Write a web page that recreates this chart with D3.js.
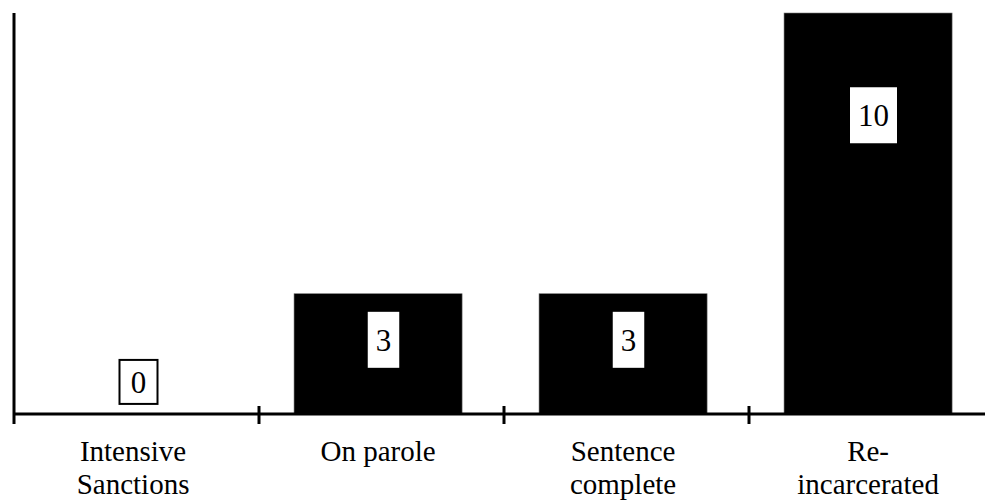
<!DOCTYPE html>
<html>
<head>
<meta charset="utf-8">
<script src="https://cdn.jsdelivr.net/npm/d3@7"></script>
<style>
  body { margin: 0; background: #fff; }
</style>
</head>
<body>
<svg width="985" height="501"></svg>
<script>
const categories = ["Intensive Sanctions", "On parole", "Sentence complete", "Re-incarcerated"];
const categoryLines = [["Intensive", "Sanctions"], ["On parole"], ["Sentence", "complete"], ["Re-", "incarcerated"]];
const values = [0, 3, 3, 10];
// height (in data units) where each value label sits
const labelAt = [0.8, 1.85, 1.85, 7.45];

const fontFamily = "'Times New Roman', 'Liberation Serif', Tinos, 'DejaVu Serif', serif";

const svg = d3.select("svg");
const width = +svg.attr("width");
const height = +svg.attr("height");

const margin = { top: 13, left: 14, bottom: 87 };
const axisY = height - margin.bottom;

const xScale = d3.scaleBand()
  .domain(categories)
  .range([margin.left, margin.left + 980]);

const yScale = d3.scaleLinear()
  .domain([0, 10])
  .range([axisY, margin.top]);

const bw = xScale.bandwidth();
const barX = d => xScale(d) + bw * 0.143;
const barW = bw * 0.686;
const barMid = d => barX(d) + barW / 2;

const data = categories.map((c, i) => ({ cat: c, value: values[i], lines: categoryLines[i], at: labelAt[i] }));

// bars
svg.append("g")
  .selectAll("rect")
  .data(data)
  .join("rect")
  .attr("x", d => barX(d.cat))
  .attr("y", d => yScale(d.value))
  .attr("width", barW)
  .attr("height", d => axisY - yScale(d.value))
  .attr("fill", "#000")
  .attr("stroke", "#777")
  .attr("stroke-width", 0.6);

// y axis line
svg.append("line")
  .attr("x1", margin.left).attr("x2", margin.left)
  .attr("y1", yScale(10)).attr("y2", axisY + 10)
  .attr("stroke", "#000").attr("stroke-width", 3);

// x axis line + ticks at band edges
svg.append("line")
  .attr("x1", margin.left).attr("x2", width)
  .attr("y1", axisY).attr("y2", axisY)
  .attr("stroke", "#000").attr("stroke-width", 3);

svg.append("g")
  .selectAll("line")
  .data(categories.slice(1))
  .join("line")
  .attr("x1", d => xScale(d)).attr("x2", d => xScale(d))
  .attr("y1", axisY - 8).attr("y2", axisY + 10)
  .attr("stroke", "#000").attr("stroke-width", 3);

// category labels
const catG = svg.append("g")
  .selectAll("text")
  .data(data)
  .join("text")
  .attr("font-family", fontFamily)
  .attr("text-anchor", "middle")
  .attr("font-size", 29);

catG.selectAll("tspan")
  .data(d => d.lines.map(l => ({ l, x: barMid(d.cat) })))
  .join("tspan")
  .attr("x", d => d.x)
  .attr("y", (d, i) => axisY + 47 + i * 33)
  .text(d => d.l);

// value labels
const lab = svg.append("g")
  .selectAll("g")
  .data(data)
  .join("g")
  .attr("transform", d => `translate(${xScale(d.cat) + bw / 2 + 2},${yScale(d.at)})`);

lab.append("rect");
lab.append("text")
  .attr("font-family", fontFamily)
  .attr("text-anchor", "middle")
  .attr("dy", "0.35em")
  .attr("font-size", 31)
  .text(d => d.value);

lab.each(function(d) {
  const g = d3.select(this);
  const b = g.select("text").node().getBBox();
  const w = d.value === 0 ? 38 : b.width + 16;
  const h = d.value === 0 ? 44 : 56;
  g.select("rect")
    .attr("x", -w / 2).attr("y", -h / 2)
    .attr("width", w).attr("height", h)
    .attr("fill", "#fff")
    .attr("stroke", d.value === 0 ? "#000" : "none")
    .attr("stroke-width", 2);
});
</script>
</body>
</html>
